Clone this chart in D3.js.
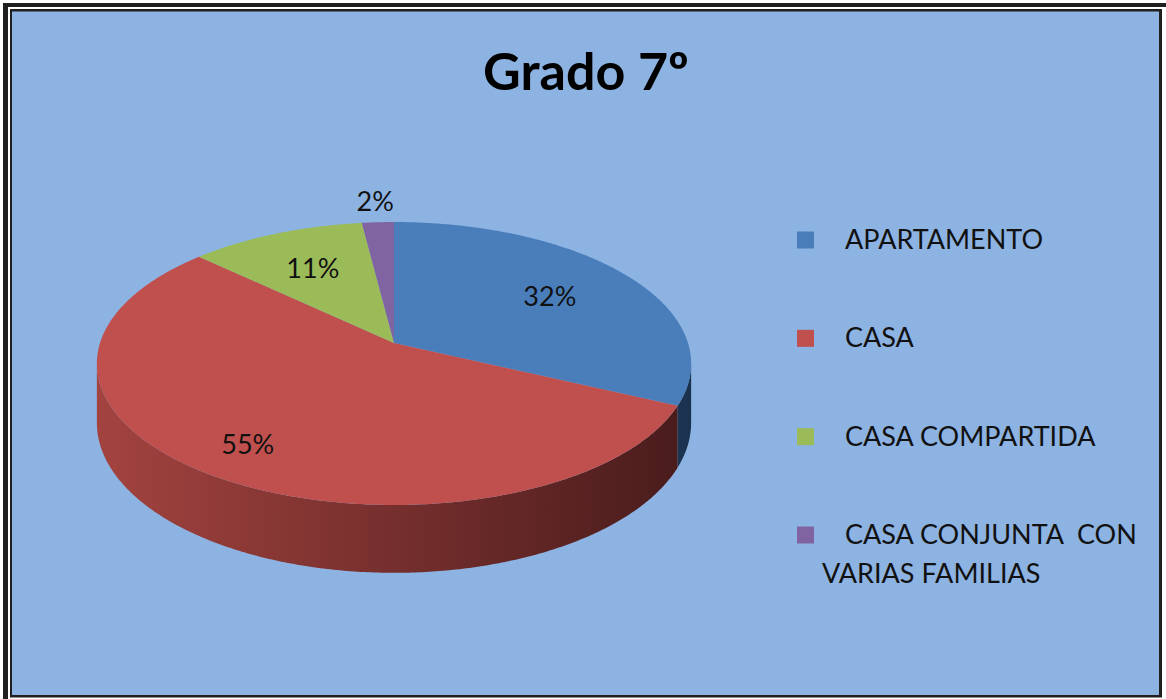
<!DOCTYPE html>
<html>
<head>
<meta charset="utf-8">
<script src="https://cdn.jsdelivr.net/npm/d3@7"></script>
<style>
  html, body { margin: 0; padding: 0; background: #fff; }
  text { font-family: Lato, "Noto Sans", sans-serif; }
</style>
</head>
<body>
<div id="chart"></div>
<script>
let svgWidth = 1166;
let svgHeight = 699;

// Data
let categories = ["APARTAMENTO", "CASA", "CASA COMPARTIDA", "CASA CONJUNTA  CON\nVARIAS FAMILIAS"];
let values = [32, 55, 11, 2];
let valueLabels = ["32%", "55%", "11%", "2%"];
let chartTitle = "Grado 7º";

let topColors = ["#4a7ebb", "#c0504d", "#9bbb59", "#8064a2"];
let sideColors = [
  ["#2c4f78", "#1c3350"],
  ["#a3433f", "#4a1c1c"],
  ["#6f8a3c", "#45561f"],
  ["#5c4778", "#3a2b4e"]
];

// pie geometry (perspective ellipse)
let cx = 394, cy = 343;
let A = 294, B = 138.5, k = 0.145, depth = 58;
let labelR = [0.66, 0.8, 0.66, 1.2];

let svg = d3.select("#chart").append("svg")
  .attr("width", svgWidth).attr("height", svgHeight);

// frame
svg.append("rect").attr("x", 3).attr("y", 3).attr("width", 1200).attr("height", 800).attr("fill", "#1f1f1f");
svg.append("rect").attr("x", 8).attr("y", 7).attr("width", 1200).attr("height", 800).attr("fill", "#fff");
svg.append("rect").attr("x", 10).attr("y", 9).attr("width", 1152).attr("height", 688.5).attr("fill", "#1f1f1f");
svg.append("rect").attr("x", 12).attr("y", 11.5).attr("width", 1147).attr("height", 683.5).attr("fill", "#8db3e2");

let defs = svg.append("defs");

let proj = (theta, r, z) => {
  let u = r * Math.sin(theta), v = -r * Math.cos(theta);
  let w = 1 - k * v;
  return [cx + A * u / w, cy + B * v / w + z * depth / w];
};

let arcPoints = (a0, a1, z) => {
  let n = Math.max(2, Math.ceil((a1 - a0) / 0.01));
  return d3.range(n + 1).map(i => proj(a0 + (a1 - a0) * i / n, 1, z));
};

let line = d3.line();
let pie = d3.pie().sort(null).value(d => d)(values);

// visible side range (front of cylinder)
let s0 = Math.PI / 2 + Math.asin(k), s1 = 3 * Math.PI / 2 - Math.asin(k);

let sides = svg.append("g");
pie.forEach((d, i) => {
  let a0 = Math.max(d.startAngle, s0), a1 = Math.min(d.endAngle, s1);
  if (a1 <= a0) return;
  let top = arcPoints(a0, a1, 0);
  let bot = arcPoints(a0, a1, 1).reverse();
  let x0 = d3.min(top, p => p[0]), x1 = d3.max(top, p => p[0]);
  let g = defs.append("linearGradient").attr("id", "side" + i)
    .attr("gradientUnits", "userSpaceOnUse")
    .attr("x1", Math.min(x0, cx - A)).attr("x2", Math.max(x1, cx + A * 0.65)).attr("y1", 0).attr("y2", 0);
  g.append("stop").attr("offset", 0).attr("stop-color", sideColors[i][0]);
  g.append("stop").attr("offset", 1).attr("stop-color", sideColors[i][1]);
  sides.append("path")
    .attr("d", line(top.concat(bot)) + "Z")
    .attr("fill", `url(#side${i})`);
});

let tops = svg.append("g");
pie.forEach((d, i) => {
  let pts = [[cx, cy]].concat(arcPoints(d.startAngle, d.endAngle, 0));
  tops.append("path")
    .attr("d", line(pts) + "Z")
    .attr("fill", topColors[i]);
});

// data labels
svg.append("g").selectAll("text")
  .data(pie)
  .enter()
  .append("text")
  .attr("x", (d, i) => proj((d.startAngle + d.endAngle) / 2, labelR[i], 0)[0])
  .attr("y", (d, i) => proj((d.startAngle + d.endAngle) / 2, labelR[i], 0)[1])
  .attr("dy", "0.36em")
  .attr("text-anchor", "middle")
  .attr("font-size", 27)
  .attr("fill", "#111")
  .text((d, i) => valueLabels[i]);

// title
svg.append("text")
  .attr("x", 586).attr("y", 90)
  .attr("text-anchor", "middle")
  .attr("font-size", 52)
  .attr("font-weight", 700)
  .attr("fill", "#000")
  .text(chartTitle);

// legend
let legendY = d3.scalePoint().domain(categories).range([240, 535]);
let legend = svg.append("g");
categories.forEach((c, i) => {
  let y = legendY(c);
  legend.append("rect")
    .attr("x", 797).attr("y", y - 8.5).attr("width", 17).attr("height", 17)
    .attr("fill", topColors[i]);
  c.split("\n").forEach((t, j) => {
    legend.append("text")
      .attr("x", j === 0 ? 845 : 822)
      .attr("y", y + 9 + j * 39)
      .attr("font-size", 27)
      .attr("fill", "#111")
      .style("white-space", "pre")
      .text(t);
  });
});
</script>
</body>
</html>
